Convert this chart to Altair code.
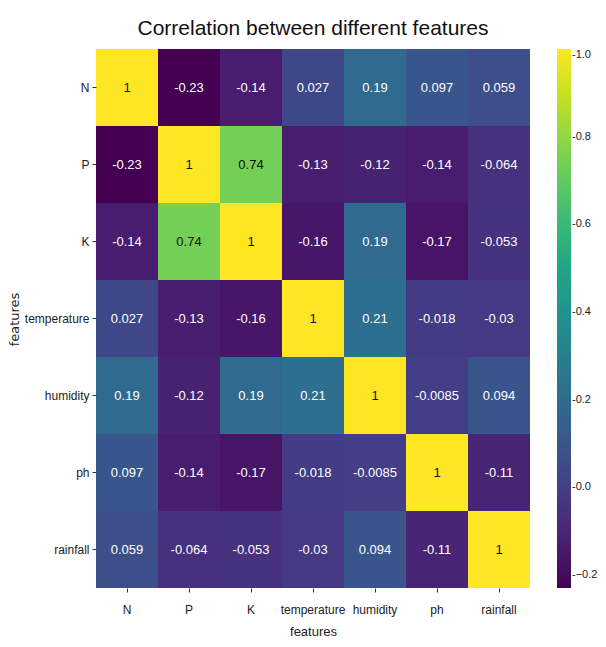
import altair as alt
import pandas as pd

features = ["N", "P", "K", "temperature", "humidity", "ph", "rainfall"]
corr = [
    [1, -0.23, -0.14, 0.027, 0.19, 0.097, 0.059],
    [-0.23, 1, 0.74, -0.13, -0.12, -0.14, -0.064],
    [-0.14, 0.74, 1, -0.16, 0.19, -0.17, -0.053],
    [0.027, -0.13, -0.16, 1, 0.21, -0.018, -0.03],
    [0.19, -0.12, 0.19, 0.21, 1, -0.0085, 0.094],
    [0.097, -0.14, -0.17, -0.018, -0.0085, 1, -0.11],
    [0.059, -0.064, -0.053, -0.03, 0.094, -0.11, 1],
]
legend_ticks = [-0.2, 0.0, 0.2, 0.4, 0.6, 0.8, 1.0]

rows = []
for i, r in enumerate(features):
    for j, c in enumerate(features):
        v = corr[i][j]
        rows.append({"row": r, "col": c, "value": v, "label": format(v, ".2g")})
df = pd.DataFrame(rows)

FONT = "Liberation Sans"

x = alt.X("col:N", sort=features, title="features",
          axis=alt.Axis(labelAngle=0, domain=False, tickSize=4, labelFontSize=12,
                        titleFontSize=13, titleFontWeight="normal", labelFont=FONT,
                        titleFont=FONT, labelColor="#222", titleColor="#222",
                        tickColor="#333", labelPadding=12, titlePadding=10))
y = alt.Y("row:N", sort=features, title="features",
          axis=alt.Axis(domain=False, tickSize=4, labelFontSize=12, titleFontSize=13,
                        titleFontWeight="normal", labelFont=FONT, titleFont="DejaVu Sans",
                        labelColor="#222", titleColor="#222", tickColor="#333",
                        labelPadding=3, titleX=-82, titleY=270, titleAngle=270,
                        titleBaseline="middle", titleAlign="center"))

heat = alt.Chart(df).mark_rect().encode(
    x=x, y=y,
    color=alt.Color("value:Q",
                    scale=alt.Scale(scheme="viridis", domain=[-0.23, 1.0]),
                    legend=alt.Legend(title=None, orient="none", legendX=461, legendY=0,
                                      gradientLength=539, gradientThickness=14,
                                      values=legend_ticks, format=".1f",
                                      labelExpr="'-' + datum.label",
                                      labelFont=FONT, labelFontSize=11, labelColor="#222",
                                      labelOverlap=False, labelOffset=1,
                                      gradientStrokeWidth=0)),
)

text = alt.Chart(df).mark_text(font=FONT, fontSize=13).encode(
    x=alt.X("col:N", sort=features),
    y=alt.Y("row:N", sort=features),
    text="label:N",
    color=alt.condition("datum.value > 0.5", alt.value("#111"), alt.value("white")),
)

chart = (heat + text).properties(
    width=434, height=539,
    title=alt.Title("Correlation between different features", font=FONT, fontSize=21,
                    fontWeight="normal", color="#111", offset=10),
    autosize=alt.AutoSizeParams(type="none"),
    padding={"left": 88, "top": 41, "right": 68, "bottom": 51},
).configure_view(stroke=None)

chart.save("out.html", embed_options={"renderer": "svg", "actions": False})
